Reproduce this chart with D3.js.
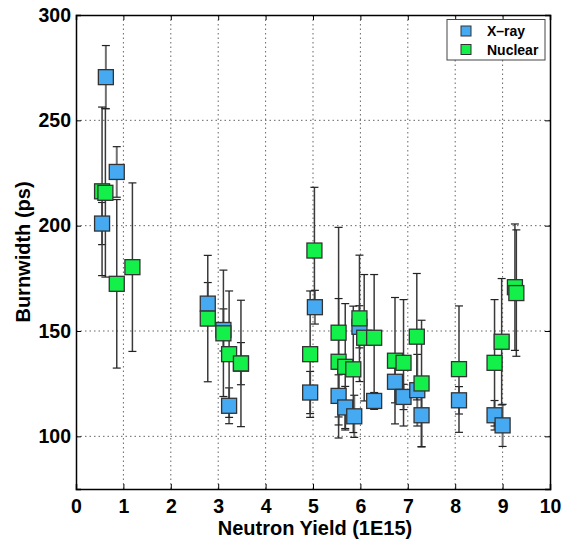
<!DOCTYPE html>
<html><head><meta charset="utf-8">
<script src="https://cdn.jsdelivr.net/npm/d3@7"></script>
<style>body{margin:0;background:#fff;} text{font-family:"Liberation Sans",Arial,sans-serif;font-weight:bold;}</style>
</head><body><svg id="c" width="567" height="543"></svg>
<script>
const xTicks = [0,1,2,3,4,5,6,7,8,9,10];
const yTicks = [100,150,200,250,300];
const seriesNames = ["X-ray","Nuclear"];
const xrayYield = [0.55,0.63,0.86,2.78,3.11,3.23,3.48,4.94,5.04,5.54,5.68,5.87,5.98,6.29,6.73,6.91,7.20,7.29,8.08,8.83,9.00];
const xrayWidth = [201,270.5,225.5,163,150.5,114.5,134.5,120.8,161.3,119.2,113.7,109.5,152,116.8,125.9,118.7,121.9,110,117.1,110,105.2];
const xrayErr   = [10,15,12,10,10,8.5,10,10,8,10,10,10,10,4,10,6,17,15,6.5,7,10];
const nucYield  = [0.55,0.62,0.86,1.19,2.78,3.11,3.23,3.48,4.94,5.03,5.54,5.54,5.68,5.85,5.98,6.08,6.29,6.73,6.91,7.19,7.29,8.08,8.83,8.98,9.26,9.29];
const nucWidth  = [216.3,215.6,172.4,180.3,155.9,148.9,139,134.6,139,188.2,149.2,135.4,133,131.8,156,146.8,146.8,135.9,134.9,147.3,125.1,131.9,134.9,144.9,170.8,168];
const nucErr    = [40,40,40,40,30,30,30,30,30,30,50,30,30,30,30,30,30,30,30,30,30,30,30,30,30,30];
const colors = {"X-ray":"#45aaf2","Nuclear":"#13f04a"};

const svg = d3.select("#c");
const L=76,R=550,T=15,B=489;
const x = d3.scaleLinear().domain([0,10]).range([L,R]);
const y = d3.scaleLinear().domain([75,300]).range([B,T]);

// grid
const g = svg.append("g");
g.selectAll(".gx").data(xTicks.slice(1,-1)).enter().append("line")
 .attr("x1",d=>x(d)).attr("x2",d=>x(d)).attr("y1",T).attr("y2",B)
 .attr("stroke","#666").attr("stroke-width",1).attr("stroke-dasharray","1.5,3");
g.selectAll(".gy").data(yTicks.slice(0,-1)).enter().append("line")
 .attr("y1",d=>y(d)).attr("y2",d=>y(d)).attr("x1",L).attr("x2",R)
 .attr("stroke","#666").attr("stroke-width",1).attr("stroke-dasharray","1.5,3");

// axes
const xa = svg.append("g").attr("transform",`translate(0,${B})`)
 .call(d3.axisBottom(x).tickValues(xTicks).tickSize(-5).tickPadding(10).tickFormat(d3.format("d")));
const xt = svg.append("g").attr("transform",`translate(0,${T})`)
 .call(d3.axisTop(x).tickValues(xTicks).tickSize(-5).tickFormat(""));
const ya = svg.append("g").attr("transform",`translate(${L},0)`)
 .call(d3.axisLeft(y).tickValues(yTicks).tickSize(-5).tickPadding(5).tickFormat(d3.format("d")));
const yr = svg.append("g").attr("transform",`translate(${R},0)`)
 .call(d3.axisRight(y).tickValues(yTicks).tickSize(-5).tickFormat(""));
[xa,xt,ya,yr].forEach(a=>{
  a.select(".domain").attr("stroke","#000").attr("stroke-width",1.5);
  a.selectAll(".tick line").attr("stroke","#000");
  a.selectAll("text").attr("font-size",19.5).attr("fill","#000").style("font-weight","bold");
});

svg.append("text").attr("x",(L+R)/2 + 2).attr("y",535).attr("text-anchor","middle")
 .attr("font-size",20).text("Neutron Yield (1E15)");
svg.append("text").attr("transform",`translate(29.5,${(T+B)/2}) rotate(-90)`).attr("text-anchor","middle")
 .attr("font-size",20).text("Burnwidth (ps)");

function drawSeries(name, xs, ys, es){
  const data = xs.map((v,i)=>({x:v,y:ys[i],e:es[i]}));
  const eg = svg.append("g");
  eg.selectAll("line.v").data(data).enter().append("line")
   .attr("x1",d=>x(d.x)).attr("x2",d=>x(d.x)).attr("y1",d=>y(d.y-d.e)).attr("y2",d=>y(d.y+d.e))
   .attr("stroke", name==="X-ray"?"#707070":"#3a3a3a").attr("stroke-width",name==="X-ray"?2:1.5);
  [-1,1].forEach(s=>{
    eg.selectAll("line.c"+s).data(data).enter().append("line")
     .attr("x1",d=>x(d.x)-4).attr("x2",d=>x(d.x)+4)
     .attr("y1",d=>y(d.y+s*d.e)).attr("y2",d=>y(d.y+s*d.e))
     .attr("stroke","#222").attr("stroke-width",1.2);
  });
  return data;
}
const dx = drawSeries("X-ray", xrayYield, xrayWidth, xrayErr);
const dn = drawSeries("Nuclear", nucYield, nucWidth, nucErr);
function drawMarkers(name, data){
  svg.append("g").selectAll("rect").data(data).enter().append("rect")
   .attr("x",d=>x(d.x)-7.5).attr("y",d=>y(d.y)-7.5).attr("width",15).attr("height",15)
   .attr("fill",colors[name]).attr("stroke","#333").attr("stroke-width",1.3);
}
drawMarkers("X-ray",dx);
drawMarkers("Nuclear",dn);

// legend
const lg = svg.append("g");
lg.append("rect").attr("x",447).attr("y",19.5).attr("width",98).attr("height",40.5)
 .attr("fill","#fff").attr("stroke","#444").attr("stroke-width",1);
seriesNames.forEach((n,i)=>{
  lg.append("rect").attr("x",461).attr("y",26+i*18.5).attr("width",10).attr("height",10)
   .attr("fill",colors[n]).attr("stroke","#333").attr("stroke-width",1);
  lg.append("text").attr("x",487).attr("y",36+i*18.5).attr("font-size",14).text(n==="X-ray"?"X\u2013ray":n);
});
</script></body></html>
